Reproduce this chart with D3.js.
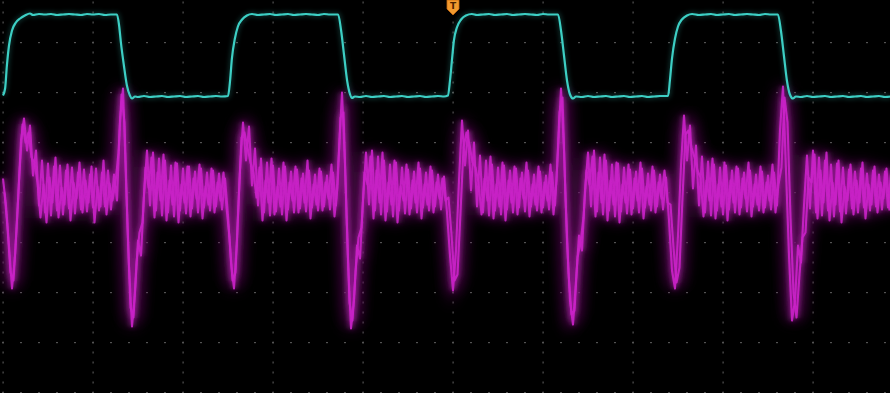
<!DOCTYPE html>
<html>
<head>
<meta charset="utf-8">
<script src="https://cdn.jsdelivr.net/npm/d3@7"></script>
<style>
  html, body { margin: 0; padding: 0; background: #000; }
  svg { display: block; }
</style>
</head>
<body>
<svg id="scope" width="890" height="393"></svg>
<script>
// Graticule: 10 horizontal divisions (30 units each), 8 vertical divisions (50 mV each)
const divTimes = [-150, -120, -90, -60, -30, 0, 30, 60, 90, 120, 150];
const divLevels = [-200, -150, -100, -50, 0, 50, 100, 150, 200];
const triggerTime = 0;

// Channel 1 (cyan): square wave, breakpoints as time / level pairs
const cyanT = [
  -150, -149.3, -148.7, -148, -147, -145.7, -144.3, -142.7, -141, -140, -138, -136, -134, -132, -130, -128, -126, -124, -122, -120, -118, -116, -114, -112,
  -111.3, -110.7, -109.7, -108.7, -107.7, -107, -106, -105, -103, -101, -99, -97, -95, -93, -91, -89, -87, -85, -83, -81, -79, -77, -75,
  -74.3, -73.7, -72.7, -71.7, -70.3, -68.7, -67, -65, -63, -61, -59, -57, -55, -53, -51, -49, -47, -45, -43, -41, -39.5, -38.3,
  -37.3, -36.3, -35.3, -34.3, -33.7, -32.7, -31, -29, -27, -25, -23, -21, -19, -17, -15, -13, -11, -9, -7, -5, -3, -1.7,
  -1, -0.3, 0.3, 1.3, 2.7, 4.3, 6.3, 8, 10, 12, 14, 16, 18, 20, 22, 24, 26, 28, 30, 32, 34, 35,
  36, 37, 38, 39, 40, 41, 43, 45, 47, 49, 51, 53, 55, 57, 59, 61, 63, 65, 67, 69, 71.7,
  72.3, 73, 74, 75, 76.3, 78, 79.7, 82, 84, 86, 88, 90, 92, 94, 96, 98, 100, 102, 104, 106, 108.3,
  109.3, 110.3, 111.3, 112.3, 113.3, 114.3, 116, 118, 120, 122, 124, 126, 128, 130, 132, 134, 136, 138, 140, 142, 144, 146
];
const cyanV = [
  97, 104, 127, 147, 162, 170, 174, 177, 179, 177.5, 178.5, 178, 178.5, 177.5, 178, 178.5, 178, 177.5, 178.5, 178, 178.5, 177.5, 178, 178,
  167, 150, 127, 107, 97, 94, 96, 95.5, 96.5, 95.5, 96, 96.5, 95.5, 96, 96.5, 95.5, 96, 96.5, 95.5, 96, 96.5, 96, 96.5,
  112, 134, 154, 166, 173, 177, 178.5, 177.5, 178, 178.5, 177.5, 178, 178.5, 177.5, 178, 178.5, 178, 177.5, 178.5, 178, 178, 178,
  162, 137, 112, 98, 94.5, 96, 95.5, 96.5, 95.5, 96, 96.5, 95.5, 96, 96.5, 95.5, 96, 96.5, 95.5, 96, 96.5, 96, 97,
  112, 134, 152, 165, 173, 177, 178.5, 177.5, 178, 178.5, 177.5, 178, 178.5, 177.5, 178, 178.5, 178, 177.5, 178.5, 178, 178, 178,
  162, 137, 112, 98, 94, 96, 95.5, 96.5, 95.5, 96, 96.5, 95.5, 96, 96.5, 95.5, 96, 96.5, 95.5, 96, 96.5, 96.5,
  112, 134, 154, 166, 173, 177, 178.5, 177.5, 178, 178.5, 177.5, 178, 178.5, 177.5, 178, 178.5, 178, 177.5, 178.5, 178, 178,
  162, 137, 112, 98, 94, 96, 95.5, 96.5, 95.5, 96, 96.5, 95.5, 96, 96.5, 95.5, 96, 96.5, 95.5, 96, 96.5, 95.5, 96
];

// Channel 2 (magenta), persistence of two sweeps; evenly sampled, one sample per time unit
const magStart = -150;
const magStep = 1;
const magV = [
  14, -13, -53, -96, -63, -8, 52, 74, 42, 67, 17, 42, -13,
  32, -20, 29, -23, 26, -18, 27, -22, 22, -16, 25, -21, 20, -17, 23, -19, 18, -15, 24, -18, 20, -14, 22, -17, 18,
  -8, 72, 104, 12, -73, -134, -100, -48, -63, -3, 42, -13, 40, -18, 34, -23, 32, -20, 27, -24, 29, -18, 24, -21, 26, -16, 21, -20, 24, -15, 20, -18, 22, -14, 19, -17, 14,
  -23, -70, -96, -48, 22, 70, 32, 66, 7, 44, -13, 34, -20, 30, -23, 27, -19, 24, -22, 26, -17, 21, -20, 23, -16, 19, -19, 22, -15, 18, -18, 21, -14, 17, -17, 20, -13,
  42, 100, 27, -68, -136, -108, -53, -66, -8, 40, -12, 42, -18, 36, -22, 32, -19, 28, -24, 30, -18, 25, -21, 23, -16, 21, -20, 24, -15, 20, -18, 22, -14, 18, -17, 16,
  -20, -63, -98, -58, 12, 72, 27, 62, 2, 50, -14, 37, -20, 32, -23, 28, -18, 25, -22, 27, -17, 22, -20, 24, -15, 20, -19, 22, -14, 18, -18, 21, -15, 17, -17, 20, -13,
  42, 104, 42, -48, -108, -132, -88, -43, -58, 2, 40, -14, 42, -19, 35, -22, 32, -18, 28, -24, 29, -19, 25, -21, 23, -16, 21, -20, 24, -15, 19, -18, 22, -14, 18, -17, 15,
  -28, -78, -96, -43, 27, 77, 32, 67, 4, 47, -13, 36, -20, 31, -23, 28, -18, 25, -22, 27, -17, 22, -20, 24, -15, 20, -19, 22, -14, 18, -18, 21, -15, 17, -17, 20, -13,
  62, 106, 22, -63, -128, -108, -53, -70, -13, 37, -16, 42, -20, 35, -23, 32, -18, 28, -24, 29, -19, 25, -21, 23, -16, 21, -20, 24, -15, 19, -18, 22, -14, 18, -17, 21, -15, 19
];
// Second sweep, sampled half a unit later than the first
const mag2Start = -149.5;
const mag2V = [
  0, -35, -80, -88, -38, 20, 68, 50, 60, 35, 30, 10, -25,
  8, -30, 15, -10, 35, -25, 5, -12, 28, -28, 10, -6, 30, -20, 12, -10, 26, -30, 6, -14, 32, -22, 9, -8, 10,
  40, 98, 70, -35, -115, -125, -70, -40, -30, 25, 5,
  35, -25, 20, -8, 38, -28, 12, -12, 30, -30, 8, -10, 26, -24, 14, -6, 28, -26, 6, -12, 24, -20, 10, -8, 20, -15,
  -45, -88, -80, -10, 55, 60, 45, 30, 20, -5, 25,
  -28, 12, -10, 34, -22, 6, -14, 30, -28, 10, -8, 26, -20, 14, -10, 32, -26, 8, -12, 24, -18, 10, -6, 28, -24, 5,
  75, 80, -20, -110, -128, -80, -45, -35, 20, 8,
  36, -26, 22, -10, 40, -28, 10, -12, 32, -30, 6, -8, 28, -22, 12, -10, 30, -26, 8, -12, 26, -20, 10, -6, 14, -8,
  -5, -42, -88, -82, -20, 45, 60, 48, 30, 25, 10,
  -22, 14, -8, 36, -26, 8, -14, 30, -28, 12, -10, 26, -22, 14, -6, 30, -24, 8, -12, 26, -20, 10, -8, 28, -22, 12,
  80, 95, -5, -80, -122, -118, -65, -50, -25, 22, 8,
  36, -24, 20, -10, 38, -28, 12, -12, 30, -30, 8, -10, 28, -22, 14, -8, 30, -26, 6, -12, 26, -20, 10, -6, 22, -10,
  -12, -55, -90, -75, -5, 58, 62, 45, 35, 22, 15,
  -24, 12, -8, 34, -26, 8, -14, 30, -28, 12, -10, 26, -22, 14, -6, 30, -24, 8, -12, 26, -20, 10, -8, 28, -20, 8,
  25, 95, 70, -25, -100, -125, -82, -45, -40, 15, 10,
  38, -26, 22, -10, 40, -28, 10, -12, 32, -30, 6, -8, 28, -22, 12, -10, 30, -26, 8, -12, 26, -20, 10, -6, 24, -18
];

const W = 890, H = 393;
const svg = d3.select("#scope");

const x = d3.scaleLinear().domain([divTimes[0], divTimes[divTimes.length - 1]]).range([3, 903]);
const y = d3.scaleLinear().domain([divLevels[0], divLevels[divLevels.length - 1]]).range([392.5, -7.5]);

svg.append("rect").attr("width", W).attr("height", H).attr("fill", "#000");

const defs = svg.append("defs");
defs.append("filter").attr("id", "haze").attr("x", "-10%").attr("y", "-30%").attr("width", "120%").attr("height", "160%")
  .append("feGaussianBlur").attr("stdDeviation", 7);
defs.append("filter").attr("id", "glow").attr("x", "-10%").attr("y", "-20%").attr("width", "120%").attr("height", "140%")
  .append("feGaussianBlur").attr("stdDeviation", 2.5);
defs.append("filter").attr("id", "soft")
  .append("feGaussianBlur").attr("stdDeviation", 0.7);

// Dotted graticule: dots every 1/5 division along each division line
const grid = svg.append("g").attr("fill", "#8a8a8a").attr("opacity", 0.6);
const minorLevels = d3.range(divLevels[0], divLevels[divLevels.length - 1] + 1, 10);
const minorTimes = d3.range(divTimes[0], divTimes[divTimes.length - 1] + 1, 6);
divTimes.forEach(t => {
  grid.selectAll(null).data(minorLevels).enter().append("rect")
    .attr("x", x(t) - 0.5).attr("y", d => y(d) - 1).attr("width", 1.2).attr("height", 2);
});
divLevels.forEach(v => {
  grid.selectAll(null).data(minorTimes).enter().append("rect")
    .attr("x", d => x(d) - 1).attr("y", y(v) - 0.5).attr("width", 2).attr("height", 1.2);
});

// Magenta sweeps with persistence haze
const sweeps = [
  magV.map((v, i) => ({ t: magStart + i * magStep, v })),
  mag2V.map((v, i) => ({ t: mag2Start + i * magStep, v }))
];
const magLine = d3.line().x(d => x(d.t)).y(d => y(d.v));
const magG = svg.append("g");
magG.selectAll("path.haze").data(sweeps).enter().append("path").attr("class", "haze")
  .attr("d", magLine).attr("fill", "none").attr("stroke", "#5e0f5c").attr("stroke-width", 14)
  .attr("opacity", 0.5).attr("filter", "url(#haze)");
magG.selectAll("path.glow").data(sweeps).enter().append("path").attr("class", "glow")
  .attr("d", magLine).attr("fill", "none").attr("stroke", "#a01c9e").attr("stroke-width", 5)
  .attr("opacity", 0.6).attr("filter", "url(#glow)");
magG.selectAll("path.trace").data(sweeps).enter().append("path").attr("class", "trace")
  .attr("d", magLine).attr("fill", "none").attr("stroke", "#c922c7").attr("stroke-width", 2.1)
  .attr("stroke-linejoin", "round").attr("opacity", 0.92).attr("filter", "url(#soft)");

// Cyan trace
const cyanData = cyanT.map((t, i) => ({ t, v: cyanV[i] }));
const cyanLine = d3.line().x(d => x(d.t)).y(d => y(d.v)).curve(d3.curveMonotoneX);
svg.append("path").datum(cyanData).attr("d", cyanLine)
  .attr("fill", "none").attr("stroke", "#2f9c94").attr("stroke-width", 4)
  .attr("opacity", 0.35).attr("filter", "url(#glow)");
svg.append("path").datum(cyanData).attr("d", cyanLine)
  .attr("fill", "none").attr("stroke", "#3ccfc4").attr("stroke-width", 2.2)
  .attr("stroke-linejoin", "round").attr("filter", "url(#soft)");

// Trigger position marker
const tx = x(triggerTime);
const marker = svg.append("g").attr("transform", `translate(${tx},0)`);
marker.append("path").attr("d", "M-6,0 L6,0 L6,9 L0,15 L-6,9 Z")
  .attr("fill", "#f29a2e").attr("stroke", "#c86a10").attr("stroke-width", 0.8);
marker.append("text").attr("x", 0).attr("y", 9).attr("text-anchor", "middle")
  .attr("font-family", "DejaVu Sans, sans-serif").attr("font-size", 9).attr("font-weight", "bold")
  .attr("fill", "#4a2000").text("T");
</script>
</body>
</html>
